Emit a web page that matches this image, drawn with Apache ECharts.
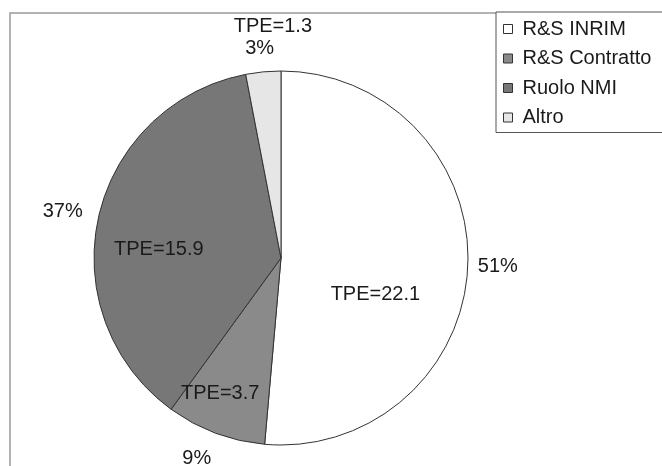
<!DOCTYPE html>
<html>
<head>
<meta charset="utf-8">
<script src="https://cdn.jsdelivr.net/npm/echarts@6/dist/echarts.min.js"></script>
<style>
html,body{margin:0;padding:0;background:#fff;}
#chart{width:662px;height:466px;}
</style>
</head>
<body>
<div id="chart"></div>
<script>
// ---- data ----
const categories = ['R&S INRIM', 'R&S Contratto', 'Ruolo NMI', 'Altro'];
const tpeValues = [22.1, 3.7, 15.9, 1.3];

// ---- styling ----
const sliceColors = ['#ffffff', '#8a8a8a', '#777777', '#e6e6e6'];
const FONT = '"Liberation Sans", Arial, sans-serif';
const TXT = '#1a1a1a';
// label nudges (to mimic the original spreadsheet label placement)
const outerNudge = [[-7, 0], [5, 14], [1, -3], [17, -11]];
const innerNudge = [[-2, 32], [-27, 45], [-28, 12], [1, -135]];

const chart = echarts.init(document.getElementById('chart'), null, {renderer: 'canvas'});

const pieData = categories.map((name, i) => ({
  name: name,
  value: tpeValues[i],
  itemStyle: {color: sliceColors[i]}
}));

const center = [281, 258];
const radius = 187;

chart.setOption({
  animation: false,
  backgroundColor: '#ffffff',
  graphic: [{
    type: 'rect',
    shape: {x: 10, y: 13, width: 700, height: 500},
    style: {fill: 'none', stroke: '#9a9a9a', lineWidth: 1.5},
    z: -10, silent: true
  }],
  legend: {
    orient: 'vertical',
    left: 496,
    top: 12,
    data: categories,
    icon: 'rect',
    itemWidth: 9,
    itemHeight: 9,
    itemGap: 9.5,
    padding: [7, 80, 5, 7],
    backgroundColor: '#ffffff',
    borderColor: '#555555',
    borderWidth: 1,
    itemStyle: {borderColor: '#333333', borderWidth: 1},
    textStyle: {fontFamily: FONT, fontSize: 20, color: TXT, lineHeight: 20, padding: [0, 0, 0, 5]},
    selectedMode: false
  },
  series: [
    {
      type: 'pie',
      center: center,
      radius: [0, radius],
      startAngle: 90,
      clockwise: true,
      avoidLabelOverlap: false,
      data: pieData,
      itemStyle: {borderColor: '#333333', borderWidth: 1},
      emphasis: {disabled: true},
      label: {
        show: true,
        position: 'outside',
        fontFamily: FONT,
        fontSize: 20,
        color: TXT,
        distanceToLabelLine: 5,
        formatter: function (p) { return Math.round(p.percent) + '%'; }
      },
      labelLine: {show: false, length: 12, length2: 0},
      labelLayout: function (params) {
        const n = outerNudge[params.dataIndex];
        return {dx: n[0], dy: n[1]};
      }
    },
    {
      type: 'pie',
      center: center,
      radius: [0, radius],
      startAngle: 90,
      clockwise: true,
      silent: true,
      avoidLabelOverlap: false,
      data: categories.map((name, i) => ({name: name, value: tpeValues[i]})),
      itemStyle: {color: 'rgba(0,0,0,0)', borderWidth: 0},
      label: {
        show: true,
        position: 'inside',
        fontFamily: FONT,
        fontSize: 20,
        color: TXT,
        formatter: function (p) { return 'TPE=' + p.value; }
      },
      labelLine: {show: false},
      labelLayout: function (params) {
        const n = innerNudge[params.dataIndex];
        return {dx: n[0], dy: n[1]};
      }
    }
  ]
});
</script>
</body>
</html>
